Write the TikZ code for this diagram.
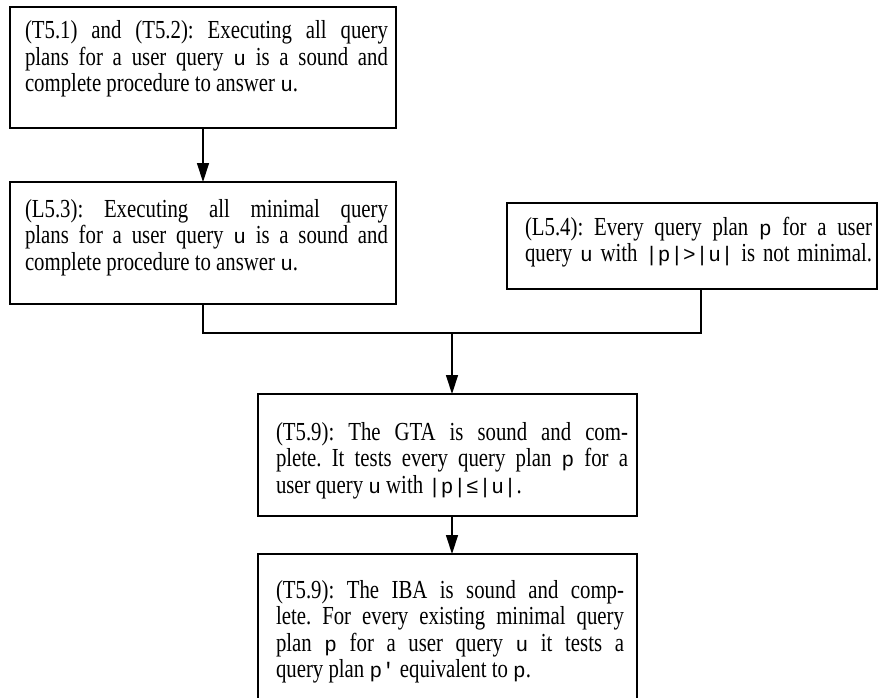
\documentclass[tikz,border=0pt]{standalone}
\usepackage{fontspec}
\setmainfont[FakeStretch=0.8]{Liberation Serif}
\newfontfamily\codefont{Liberation Mono}
\usetikzlibrary{arrows.meta,calc}

% typewriter identifiers (u, p, |p|...)
\newcommand\code[1]{{\codefont\fontsize{21}{26.5}\selectfont #1}}
% box body: left pad, text width, right pad, box height, first baseline, lines
\newcommand\claimbody[6]{%
  \hspace*{#1}\parbox[c][#4][t]{#2}{\fontsize{26}{26.5}\selectfont
    \frenchspacing\rule{0pt}{#5}#6}\hspace*{#3}}
\newcommand\jline[1]{\makebox[\linewidth][s]{#1}}

\tikzset{
  claimbox/.style={draw, line width=1.6pt, inner sep=0pt, outer sep=0pt,
    anchor=north west},
  link/.style={line width=1.3pt},
  arr/.style={link, -{Triangle[length=19pt,width=12pt]}}
}

\begin{document}
\begin{tikzpicture}[x=1pt, y=-1pt]
  \path[fill=white, use as bounding box] (0,0) rectangle (880,698);

  \node[claimbox] (B1) at (10,7) {\claimbody{15pt}{363pt}{8pt}{121pt}{32pt}{%
    \jline{(T5.1) and (T5.2): Executing all query}\\
    \jline{plans for a user query \code{u} is a sound and}\\
    complete procedure to answer \code{u}.}};

  \node[claimbox] (B2) at (10,182) {\claimbody{15pt}{363pt}{8pt}{122pt}{35pt}{%
    \jline{(L5.3): Executing all minimal query}\\
    \jline{plans for a user query \code{u} is a sound and}\\
    complete procedure to answer \code{u}.}};

  \node[claimbox] (B3) at (507,203) {\claimbody{18pt}{347pt}{5pt}{86pt}{32pt}{%
    \jline{(L5.4): Every query plan \code{p} for a user}\\
    \jline{query \code{u} with \code{|p|>|u|} is not minimal.}}};

  \node[claimbox] (B4) at (258,394) {\claimbody{18pt}{352pt}{9pt}{122pt}{46pt}{%
    \jline{(T5.9): The GTA is sound and com-}\\
    \jline{plete. It tests every query plan \code{p} for a}\\
    user query \code{u} with \code{|p|≤|u|}.}};

  \node[claimbox] (B5) at (258,554) {\claimbody{18pt}{348pt}{13pt}{150pt}{44pt}{%
    \jline{(T5.9): The IBA is sound and comp-}\\
    \jline{lete. For every existing minimal query}\\
    \jline{plan \code{p} for a user query \code{u} it tests a}\\
    query plan \code{p'} equivalent to \code{p}.}};

  % junction where the two premises meet
  \coordinate (J) at (452,333);

  \draw[arr] (B1.south) -- (B2.north);
  \draw[link] (B2.south) |- (J) -| ([xshift=9pt]B3.south);
  \draw[arr] (J) -- ([xshift=4.5pt]B4.north);
  \draw[arr] ([xshift=4.5pt]B4.south) -- ([xshift=4.5pt]B5.north);
\end{tikzpicture}
\end{document}
